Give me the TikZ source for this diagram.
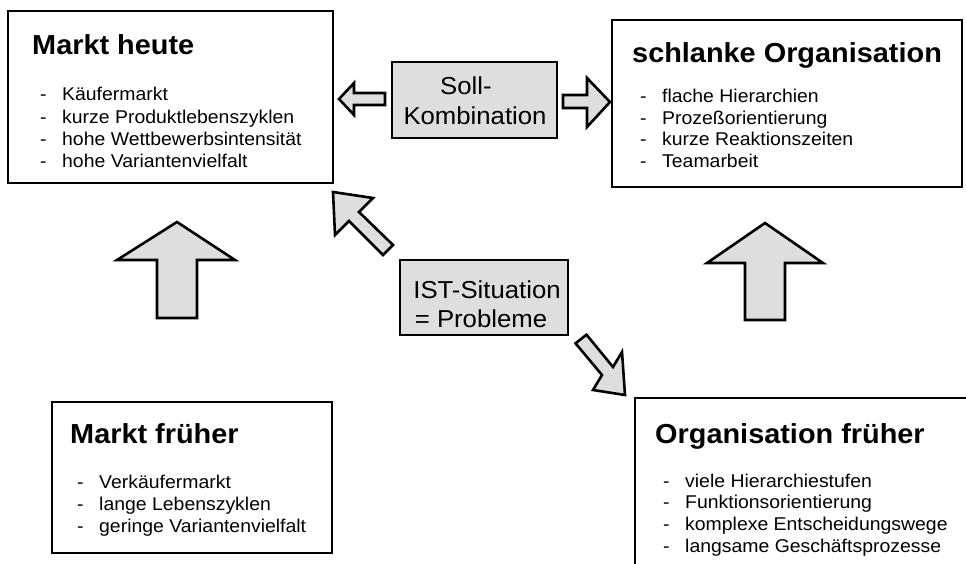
\documentclass[tikz,border=0pt]{standalone}
\usepackage{fontspec}
\setmainfont{Liberation Sans}[FakeStretch=1.05]
\begin{document}
\begin{tikzpicture}[x=1pt,y=-1pt,
  box/.style={draw=black,line width=2.6pt,fill=white,inner sep=0pt},
  stipple/.style={draw=black,line width=2.6pt,fill=black!13,line join=miter},
  title/.style={anchor=base west,inner sep=0pt,font=\fontsize{27.5}{30}\selectfont\bfseries},
  item/.style={anchor=base west,inner sep=0pt,font=\fontsize{18.5}{22}\selectfont},
  lbl/.style={anchor=base,inner sep=0pt,font=\fontsize{24.5}{28}\selectfont}]
\clip (0,0) rectangle (966,564);
\fill[white] (0,0) rectangle (966,564);
\newcommand{\dashitem}[1]{\makebox[22pt][l]{-}#1}

% main boxes
\node[box,minimum width=325pt,minimum height=172pt] (heute) at (170.5,97) {};
\node[box,minimum width=350pt,minimum height=167pt] (schlank) at (787,103.5) {};
\node[box,minimum width=280pt,minimum height=151pt] (frueher) at (192,477.5) {};
\node[box,minimum width=340pt,minimum height=182pt] (orgfr) at (805,489) {};

% Markt heute
\node[title] (t1) at (32,55) {Markt heute};
\node[item] (a1) at (40,101) {\dashitem{Käufermarkt}};
\node[item] (a2) at (40,123.3) {\dashitem{kurze Produktlebenszyklen}};
\node[item] (a3) at (40,145.6) {\dashitem{hohe Wettbewerbsintensität}};
\node[item] (a4) at (40,167.9) {\dashitem{hohe Variantenvielfalt}};

% schlanke Organisation
\node[title] (t2) at (632,63) {schlanke Organisation};
\node[item] (b1) at (640,103) {\dashitem{flache Hierarchien}};
\node[item] (b2) at (640,124.5) {\dashitem{Prozeßorientierung}};
\node[item] (b3) at (640,146) {\dashitem{kurze Reaktionszeiten}};
\node[item] (b4) at (640,167.5) {\dashitem{Teamarbeit}};

% Markt frueher
\node[title] (t3) at (70,443) {Markt früher};
\node[item] (c1) at (77,488) {\dashitem{Verkäufermarkt}};
\node[item] (c2) at (77,510) {\dashitem{lange Lebenszyklen}};
\node[item] (c3) at (77,532) {\dashitem{geringe Variantenvielfalt}};

% Organisation frueher
\node[title] (t4) at (655,443) {Organisation früher};
\node[item] (d1) at (663,487) {\dashitem{viele Hierarchiestufen}};
\node[item] (d2) at (663,508.7) {\dashitem{Funktionsorientierung}};
\node[item] (d3) at (663,530.4) {\dashitem{komplexe Entscheidungswege}};
\node[item] (d4) at (663,552.1) {\dashitem{langsame Geschäftsprozesse}};

% Soll-Kombination
\node[stipple,minimum width=165pt,minimum height=76pt,inner sep=0pt] (soll) at (474.5,100) {};
\node[lbl,anchor=base west] (s1) at (440,95) {Soll-};
\node[lbl] (s2) at (475,125) {Kombination};

% IST-Situation
\node[stipple,minimum width=168pt,minimum height=75pt,inner sep=0pt] (ist) at (484,297.5) {};
\node[lbl] (i1) at (487,298) {IST-Situation};
\node[lbl] (i2) at (481,327) {= Probleme};

% block arrows
% left (to Markt heute)
\draw[stipple] (339,99) -- (354,83) -- (354,93) -- (385,93) -- (385,105) -- (354,105) -- (354,115) -- cycle;
% right (to schlanke Organisation)
\draw[stipple] (610,102) -- (587,78) -- (587,95) -- (563,95) -- (563,108) -- (587,108) -- (587,127) -- cycle;
% up-left diagonal
\draw[stipple] (333,192) -- (373,198) -- (359,212) -- (393,245) -- (383,255) -- (349,221) -- (335,235) -- cycle;
% down-right diagonal
\draw[stipple] (625,395) -- (593,390) -- (602,375) -- (575.5,343.3) -- (586.5,334.7) -- (613,367) -- (622,352) -- cycle;
% big up arrow left
\draw[stipple] (177,222) -- (235,260) -- (197,260) -- (197,318) -- (157,318) -- (157,260) -- (117,260) -- cycle;
% big up arrow right
\draw[stipple] (765,223) -- (823,263) -- (785,263) -- (785,320) -- (745,320) -- (745,263) -- (707,263) -- cycle;
\end{tikzpicture}
\end{document}
